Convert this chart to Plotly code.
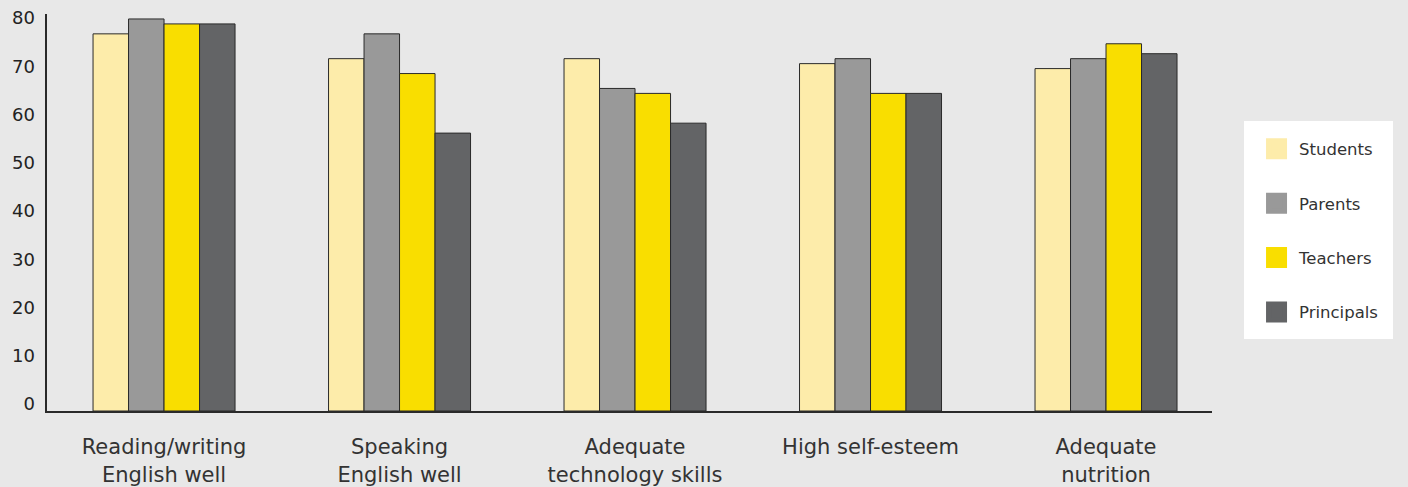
import plotly.graph_objects as go

categories = ["Reading/writing<br>English well", "Speaking<br>English well",
              "Adequate<br>technology skills", "High self-esteem", "Adequate<br>nutrition"]
students = [76, 71, 71, 70, 69]
parents = [79, 76, 65, 71, 71]
teachers = [78, 68, 64, 64, 74]
principals = [78, 56, 58, 64, 72]
y_ticks = [0, 10, 20, 30, 40, 50, 60, 70, 80]

series = [("Students", students, "#FDECAA"),
          ("Parents", parents, "#999999"),
          ("Teachers", teachers, "#F9DE00"),
          ("Principals", principals, "#636466")]

FONT = "DejaVu Sans"
fig = go.Figure()
for i, (name, vals, col) in enumerate(series):
    fig.add_trace(go.Bar(x=categories, y=vals, name=name, showlegend=False,
                         marker=dict(color=col, line=dict(color="#2a2a2a", width=1))))
for i, (name, vals, col) in enumerate(series):
    fig.add_trace(go.Scatter(x=[None], y=[None], mode="markers", name=name,
                             legendgroup=name,
                             marker=dict(symbol="square", size=16, color=col,
                                         line=dict(color=col, width=5))))
# label axis (reference labels sit slightly off the bar scale)
fig.add_trace(go.Scatter(x=[None], y=[None], yaxis="y2", showlegend=False))

fig.update_layout(
    width=1408, height=487,
    margin=dict(l=47, r=196, t=14, b=76, autoexpand=False),
    paper_bgcolor="#E8E8E8", plot_bgcolor="#E8E8E8",
    barmode="group", bargap=0.397, bargroupgap=0,
    font=dict(family=FONT, color="#333333"),
    xaxis=dict(range=[-0.497, 4.45], showgrid=False, showline=True, linecolor="#2a2a2a",
               linewidth=2, ticks="", tickfont=dict(size=21, color="#333333"),
               ticklabelstandoff=16, automargin=False),
    yaxis=dict(range=[0, 80], showgrid=False, showline=True, linecolor="#2a2a2a",
               linewidth=1.5, showticklabels=False, ticks="", zeroline=False,
               automargin=False),
    yaxis2=dict(range=[-1.45, 80.83], overlaying="y", side="left", showgrid=False,
                showline=False, zeroline=False, tickvals=y_ticks, ticks="",
                tickfont=dict(size=18, color="#222222"), ticklabelstandoff=11,
                automargin=False),
    legend=dict(x=1.0275, xanchor="left", y=0.4547, yanchor="middle",
                bgcolor="#FFFFFF", bordercolor="#FFFFFF", borderwidth=10,
                font=dict(size=16.5, color="#333333"),
                tracegroupgap=30, itemwidth=35),
)
fig.write_html("out.html")
